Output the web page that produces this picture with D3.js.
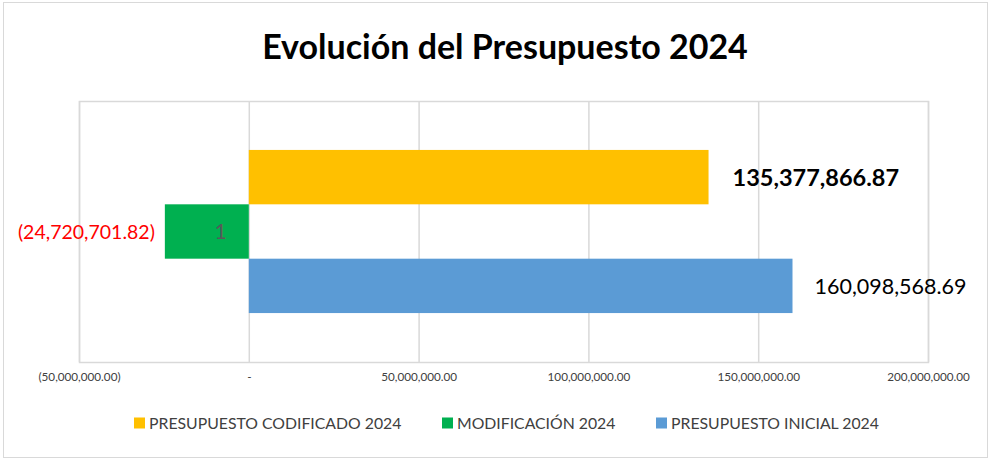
<!DOCTYPE html>
<html>
<head>
<meta charset="utf-8">
<script src="https://cdn.jsdelivr.net/npm/d3@7"></script>
<style>
  body { margin: 0; background: #fff; }
  text { font-family: Lato, "Open Sans", sans-serif; }
</style>
</head>
<body>
<svg id="chart" width="990" height="459"></svg>
<script>
// data
const categories = ["1"];
const series = ["PRESUPUESTO CODIFICADO 2024", "MODIFICACIÓN 2024", "PRESUPUESTO INICIAL 2024"];
const values = [135377866.87, -24720701.82, 160098568.69];
const colors = ["#ffc000", "#00b050", "#5b9bd5"];
const xTicks = [-50000000, 0, 50000000, 100000000, 150000000, 200000000];

const width = 990, height = 459;
const margin = { top: 101, right: 62, bottom: 97, left: 79 };

const svg = d3.select("#chart");

// outer chart border
svg.append("rect")
  .attr("x", 3.5).attr("y", 2.5)
  .attr("width", 984).attr("height", 455)
  .style("fill", "none")
  .style("stroke", "#d9d9d9")
  .style("stroke-width", "1px");

svg.append("text")
  .attr("x", 505)
  .attr("y", 59)
  .attr("text-anchor", "middle")
  .style("font-size", "34px")
  .style("font-weight", "bold")
  .style("fill", "#000")
  .text("Evolución del Presupuesto 2024");

const x = d3.scaleLinear()
  .domain([-50000000, 200000000])
  .range([margin.left, width - margin.right]);

const y0 = d3.scaleBand()
  .domain(categories)
  .range([margin.top, height - margin.bottom])
  .paddingOuter(0.3)
  .paddingInner(0);

const y1 = d3.scaleBand()
  .domain(series)
  .range([0, y0.bandwidth()]);

const fmt = v => {
  const s = d3.format(",.2f")(Math.abs(v));
  return v < 0 ? "(" + s + ")" : s;
};
const tickFmt = v => v === 0 ? "-" : fmt(v);

// plot area border + gridlines
svg.append("rect")
  .attr("x", margin.left + 0.5).attr("y", margin.top + 0.5)
  .attr("width", x(200000000) - margin.left)
  .attr("height", height - margin.bottom - margin.top)
  .style("fill", "none")
  .style("stroke", "#d9d9d9")
  .style("stroke-width", "1.5px");

let xAxis = svg.append("g")
  .attr("class", "x axis")
  .attr("transform", `translate(0,${height - margin.bottom})`)
  .call(d3.axisBottom(x)
    .tickValues(xTicks)
    .tickSize(-(height - margin.bottom - margin.top))
    .tickPadding(11)
    .tickFormat(tickFmt));

xAxis.select(".domain").remove();
xAxis.selectAll(".tick line")
  .style("stroke", "#d9d9d9")
  .style("stroke-width", "1.5px");
xAxis.selectAll(".tick text")
  .style("font-family", "Lato, sans-serif")
  .style("font-size", "11.7px")
  .style("fill", "#404040");

const g = svg.append("g")
  .attr("transform", d => `translate(0,${y0(categories[0])})`);

g.selectAll("rect")
  .data(series)
  .join("rect")
  .attr("x", (d, i) => x(Math.min(0, values[i])))
  .attr("y", d => y1(d))
  .attr("width", (d, i) => Math.abs(x(values[i]) - x(0)))
  .attr("height", y1.bandwidth())
  .style("fill", (d, i) => colors[i]);

// value labels
const labelStyle = [
  { size: "23.5px", weight: "bold", fill: "#000", dx: 24 },
  { size: "19.5px", weight: "normal", fill: "#ff0000", dx: -10 },
  { size: "21.5px", weight: "normal", fill: "#000", dx: 22 }
];

g.selectAll(".val")
  .data(series)
  .join("text")
  .attr("class", "val")
  .attr("x", (d, i) => x(values[i]) + labelStyle[i].dx)
  .attr("y", d => y1(d) + y1.bandwidth() / 2)
  .attr("dy", "0.36em")
  .attr("text-anchor", (d, i) => values[i] < 0 ? "end" : "start")
  .style("font-size", (d, i) => labelStyle[i].size)
  .style("font-weight", (d, i) => labelStyle[i].weight)
  .style("fill", (d, i) => labelStyle[i].fill)
  .text((d, i) => fmt(values[i]));

// category label next to the zero axis
svg.append("text")
  .attr("x", x(0) - 22)
  .attr("y", y0(categories[0]) + y0.bandwidth() / 2)
  .attr("dy", "0.36em")
  .attr("text-anchor", "end")
  .style("font-size", "21px")
  .style("fill", "#595959")
  .text(categories[0]);

// legend
const legendX = [134, 442, 656];
const legend = svg.append("g")
  .selectAll("g")
  .data(series)
  .join("g")
  .attr("transform", (d, i) => `translate(${legendX[i]},423)`);

legend.append("rect")
  .attr("x", 0).attr("y", -5.5)
  .attr("width", 11).attr("height", 11)
  .style("fill", (d, i) => colors[i]);

legend.append("text")
  .attr("x", 15)
  .attr("dy", "0.36em")
  .style("font-size", "15.8px")
  .style("fill", "#404040")
  .text(d => d);
</script>
</body>
</html>
